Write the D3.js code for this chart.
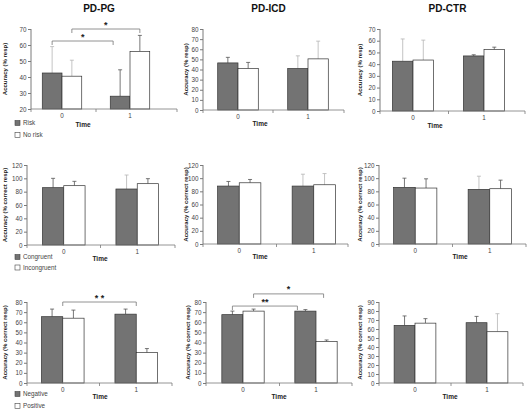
<!DOCTYPE html>
<html>
<head>
<meta charset="utf-8">
<script src="https://cdn.jsdelivr.net/npm/d3@7"></script>
<style>
  body { margin: 0; background: #fff; }
  text { font-family: "Liberation Sans", Arial, sans-serif; }
</style>
</head>
<body>
<script>
// Categories shared by every panel
var timeLabels = ["0", "1"];
var seriesKeys = ["dark", "white"];

// Row 1 - accuracy (% resp)
var pgRisk = [42.5, 28],   pgNoRisk = [40.5, 56];
var pgRiskErr = [16.5, 16.5], pgNoRiskErr = [10, 10];
var icdRisk = [46.5, 41],  icdNoRisk = [41, 50.5];
var icdRiskErr = [5.5, 12.5], icdNoRiskErr = [6, 17.5];
var ctrRisk = [42.5, 47],  ctrNoRisk = [43.5, 52.5];
var ctrRiskErr = [19, 1], ctrNoRiskErr = [17, 2];

// Row 2 - congruent / incongruent
var pgCong = [86, 84],  pgIncong = [89, 92];
var pgCongErr = [14, 21], pgIncongErr = [6.5, 7.5];
var icdCong = [88, 88], icdIncong = [93, 90];
var icdCongErr = [7, 18], icdIncongErr = [5, 17];
var ctrCong = [86, 83], ctrIncong = [85, 84];
var ctrCongErr = [14, 20], ctrIncongErr = [14, 13];

// Row 3 - negative / positive
var pgNeg = [65.5, 68],  pgPos = [64, 30];
var pgNegErr = [7.5, 5], pgPosErr = [8, 4];
var icdNeg = [67.5, 71], icdPos = [71, 41];
var icdNegErr = [3.5, 1.5], icdPosErr = [2, 1.5];
var ctrNeg = [64, 67],   ctrPos = [66.5, 57];
var ctrNegErr = [10.5, 7], ctrPosErr = [5, 20];

// Legend names and titles
var colTitles = ["PD-PG", "PD-ICD", "PD-CTR"];
var legendRow1 = ["Risk", "No risk"];
var legendRow2 = ["Congruent", "Incongruent"];
var legendRow3 = ["Negative", "Positive"];
var yLabelRow1 = "Accuracy (% resp)";
var yLabelRow23 = "Accuracy (% correct resp)";

// Significance brackets: [time, series or null for group centre], level, label
var pgRow1Brackets = [
  {from: ["0", "dark"], to: ["1", "dark"], level: 62.5, label: "*", shift: -7},
  {from: ["0", "white"], to: ["1", "white"], level: 70, label: "*", shift: 0}
];
var pgRow3Brackets = [
  {from: ["0", null], to: ["1", null], level: 80, label: "* *", shift: 0}
];
var icdRow3Brackets = [
  {from: ["0", "dark"], to: ["1", "dark"], level: 76, label: "**", shift: -8},
  {from: ["0", "white"], to: ["1", "white"], level: 88, label: "*", shift: -3}
];

var svg = d3.select("body").append("svg").attr("width", 527).attr("height", 418);

// layout of each panel (pixel frame) + which data it uses
var panels = [
  {title: colTitles[0], yLabel: yLabelRow1, dark: pgRisk, white: pgNoRisk, darkErr: pgRiskErr, whiteErr: pgNoRiskErr,
   domain: [20, 70], step: 10, ax: 31, bx: [28, 164], xEnd: 177, yTop: 29, yBot: 109, labOff: 24,
   legend: legendRow1, legY: 123, legGap: 12, timeX: 83, timeDy: 16, brackets: pgRow1Brackets, light: ["dark0", "white0"]},
  {title: colTitles[1], yLabel: yLabelRow1, dark: icdRisk, white: icdNoRisk, darkErr: icdRiskErr, whiteErr: icdNoRiskErr,
   domain: [0, 80], step: 10, ax: 203, bx: [203, 343], xEnd: 344, yTop: 29, yBot: 110, labOff: 15,
   legend: null, timeX: 260, timeDy: 14, brackets: [], light: ["dark1", "white1"]},
  {title: colTitles[2], yLabel: yLabelRow1, dark: ctrRisk, white: ctrNoRisk, darkErr: ctrRiskErr, whiteErr: ctrNoRiskErr,
   domain: [0, 70], step: 10, ax: 380, bx: [377.5, 519.5], xEnd: 525, yTop: 29, yBot: 111, labOff: 18,
   legend: null, timeX: 435, timeDy: 15, brackets: [], light: ["dark0", "white0"]},
  {title: null, yLabel: yLabelRow23, dark: pgCong, white: pgIncong, darkErr: pgCongErr, whiteErr: pgIncongErr,
   domain: [0, 120], step: 20, ax: 27, bx: [27, 174], xEnd: 175, yTop: 165, yBot: 245, labOff: 20,
   legend: legendRow2, legY: 257, legGap: 10.5, timeX: 100, timeDy: 14, brackets: [], light: ["dark1"]},
  {title: null, yLabel: yLabelRow23, dark: icdCong, white: icdIncong, darkErr: icdCongErr, whiteErr: icdIncongErr,
   domain: [0, 120], step: 20, ax: 203, bx: [202, 351], xEnd: 348, yTop: 165, yBot: 244, labOff: 15,
   legend: null, timeX: 260, timeDy: 13, brackets: [], light: ["dark1", "white1"]},
  {title: null, yLabel: yLabelRow23, dark: ctrCong, white: ctrIncong, darkErr: ctrCongErr, whiteErr: ctrIncongErr,
   domain: [0, 120], step: 20, ax: 379, bx: [378, 527], xEnd: 526, yTop: 165, yBot: 244, labOff: 17,
   legend: null, timeX: 460, timeDy: 13, brackets: [], light: ["dark1"]},
  {title: null, yLabel: yLabelRow23, dark: pgNeg, white: pgPos, darkErr: pgNegErr, whiteErr: pgPosErr,
   domain: [0, 80], step: 10, ax: 27, bx: [26, 173], xEnd: 172, yTop: 302, yBot: 383, labOff: 20,
   legend: legendRow3, legY: 394, legGap: 12, timeX: 100, timeDy: 14, brackets: pgRow3Brackets, light: []},
  {title: null, yLabel: yLabelRow23, dark: icdNeg, white: icdPos, darkErr: icdNegErr, whiteErr: icdPosErr,
   domain: [0, 80], step: 10, ax: 206, bx: [206.5, 352.5], xEnd: 352, yTop: 302, yBot: 383, labOff: 16,
   legend: null, timeX: 279, timeDy: 14, brackets: icdRow3Brackets, light: []},
  {title: null, yLabel: yLabelRow23, dark: ctrNeg, white: ctrPos, darkErr: ctrNegErr, whiteErr: ctrPosErr,
   domain: [0, 90], step: 10, ax: 379, bx: [379, 523], xEnd: 523, yTop: 302, yBot: 383, labOff: 17,
   legend: null, timeX: 450, timeDy: 14, brackets: [], light: ["white1"]}
];

var fills = {dark: "#737373", white: "#ffffff"};
var axisColor = "#7a7a7a";

panels.forEach(function(p) {
  var g = svg.append("g");

  var y = d3.scaleLinear().domain(p.domain).range([p.yBot, p.yTop]);
  var x = d3.scaleBand().domain(timeLabels).range(p.bx).paddingInner(0.42).paddingOuter(0.21);
  var xs = d3.scaleBand().domain(seriesKeys).range([0, x.bandwidth()]);

  // title
  if (p.title) {
    g.append("text").attr("x", (p.ax + p.xEnd) / 2 - 5).attr("y", 12)
      .attr("text-anchor", "middle").attr("font-size", "10px").attr("font-weight", "bold")
      .attr("fill", "#111").text(p.title);
  }

  // bars
  var rows = [];
  timeLabels.forEach(function(t, i) {
    rows.push({t: t, s: "dark", v: p.dark[i], e: p.darkErr[i], key: "dark" + i});
    rows.push({t: t, s: "white", v: p.white[i], e: p.whiteErr[i], key: "white" + i});
  });

  // error bars (upper only)
  rows.forEach(function(d) {
    var cx = x(d.t) + xs(d.s) + xs.bandwidth() / 2;
    var col = p.light.indexOf(d.key) >= 0 ? "#b5b5b5" : "#555";
    g.append("line").attr("x1", cx).attr("x2", cx).attr("y1", y(d.v)).attr("y2", y(d.v + d.e))
      .attr("stroke", col).attr("stroke-width", 0.8);
    g.append("line").attr("x1", cx - 2).attr("x2", cx + 2).attr("y1", y(d.v + d.e)).attr("y2", y(d.v + d.e))
      .attr("stroke", col).attr("stroke-width", 0.8);
  });

  g.selectAll("rect.bar").data(rows).enter().append("rect")
    .attr("class", "bar")
    .attr("x", function(d) { return x(d.t) + xs(d.s); })
    .attr("y", function(d) { return y(d.v); })
    .attr("width", xs.bandwidth())
    .attr("height", function(d) { return y(p.domain[0]) - y(d.v); })
    .attr("fill", function(d) { return fills[d.s]; })
    .attr("stroke", "#333").attr("stroke-width", 0.7);

  // y axis
  var yAxis = d3.axisLeft(y).tickValues(d3.range(p.domain[0], p.domain[1] + 0.1, p.step)).tickSize(3).tickPadding(1.5);
  var ya = g.append("g").attr("transform", "translate(" + p.ax + ",0)").call(yAxis);
  ya.select(".domain").attr("stroke", axisColor).attr("d", "M0," + p.yBot + "V" + p.yTop);
  ya.selectAll(".tick line").attr("stroke", axisColor);
  ya.selectAll(".tick text").attr("font-size", "6.3px").attr("fill", "#444").attr("font-family", "Liberation Sans, Arial, sans-serif");

  // x axis line with boundary ticks
  g.append("line").attr("x1", p.ax).attr("x2", p.xEnd).attr("y1", p.yBot).attr("y2", p.yBot)
    .attr("stroke", axisColor).attr("stroke-width", 0.8);
  var mid = (x("0") + x.bandwidth() + x("1")) / 2;
  [p.ax, mid, p.xEnd].forEach(function(xx) {
    g.append("line").attr("x1", xx).attr("x2", xx).attr("y1", p.yBot).attr("y2", p.yBot + 3)
      .attr("stroke", axisColor).attr("stroke-width", 0.8);
  });
  timeLabels.forEach(function(t) {
    g.append("text").attr("x", x(t) + x.bandwidth() / 2).attr("y", p.yBot + 8.5)
      .attr("text-anchor", "middle").attr("font-size", "6.3px").attr("fill", "#444").text(t);
  });
  g.append("text").attr("x", p.timeX).attr("y", p.yBot + p.timeDy + 2)
    .attr("text-anchor", "middle").attr("font-size", "6.5px").attr("font-weight", "bold")
    .attr("fill", "#222").text("Time");

  // y label
  g.append("text")
    .attr("transform", "translate(" + (p.ax - p.labOff) + "," + ((p.yTop + p.yBot) / 2) + ") rotate(-90)")
    .attr("text-anchor", "middle").attr("font-size", "6px").attr("font-weight", "bold")
    .attr("fill", "#222").text(p.yLabel);

  // legend
  if (p.legend) {
    p.legend.forEach(function(name, i) {
      var ly = p.legY + i * p.legGap;
      g.append("rect").attr("x", 15).attr("y", ly - 2.5).attr("width", 5).attr("height", 5)
        .attr("fill", fills[seriesKeys[i]]).attr("stroke", "#444").attr("stroke-width", 0.6);
      g.append("text").attr("x", 23).attr("y", ly + 2.2).attr("font-size", "6.3px").attr("fill", "#444").text(name);
    });
  }

  // significance brackets
  p.brackets.forEach(function(b) {
    function endX(e) {
      if (e[1] == null) return x(e[0]) + x.bandwidth() / 2;
      return x(e[0]) + xs(e[1]) + xs.bandwidth() / 2;
    }
    var x1 = endX(b.from), x2 = endX(b.to) + b.shift, by = y(b.level);
    g.append("path").attr("d", "M" + x1 + "," + (by + 4) + "V" + by + "H" + x2 + "V" + (by + 4))
      .attr("fill", "none").attr("stroke", "#777").attr("stroke-width", 0.8);
    g.append("text").attr("x", (x1 + x2) / 2).attr("y", by - 1.5).attr("text-anchor", "middle")
      .attr("font-size", "9px").attr("font-weight", "bold").attr("fill", "#222").text(b.label);
  });
});
</script>
</body>
</html>
